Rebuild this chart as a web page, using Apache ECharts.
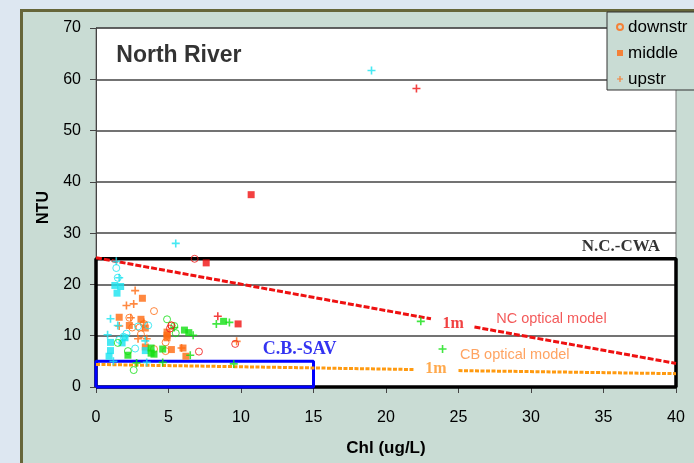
<!DOCTYPE html>
<html>
<head>
<meta charset="utf-8">
<script src="https://cdn.jsdelivr.net/npm/echarts@6/dist/echarts.min.js"></script>
<style>
	html, body { margin: 0; padding: 0; }
	body { width: 694px; height: 463px; overflow: hidden; background: #dde7f1; position: relative; }
	.panel {
		position: absolute; left: 20px; top: 9px; width: 700px; height: 470px;
		background: #c9dcd4; border-left: 3px solid #66663a; border-top: 3px solid #66663a;
	}
	#chart { position: absolute; left: 0; top: 0; width: 694px; height: 463px; }
</style>
</head>
<body>
<div class="panel"></div>
<div id="chart"></div>
<script>
	// Chl (ug/L), NTU pairs, one array per colour and station
	const downOrange = [[4.0, 14.8], [2.3, 13.5], [3.3, 12.3], [2.5, 11.6], [5.2, 12.0], [3.1, 10.3], [4.8, 8.7], [4.8, 7.0], [4.0, 7.4], [3.0, 11.6]];
	const midOrange = [[3.2, 17.3], [1.6, 13.6], [3.1, 13.2], [2.3, 12.0], [3.4, 11.5], [4.9, 10.7], [4.9, 10.1], [4.9, 9.6], [5.2, 7.3], [6.0, 7.6], [6.2, 6.0], [3.4, 7.8]];
	const upOrange = [[2.7, 18.8], [2.6, 16.2], [2.1, 15.9], [2.4, 13.5], [1.6, 11.9], [3.5, 9.4], [2.9, 9.4], [5.9, 7.6], [9.7, 8.9], [3.3, 12.6]];

	const downCyan = [[1.4, 23.2], [1.5, 21.3], [3.6, 12.0], [2.9, 11.8], [2.1, 10.4], [1.6, 9.2], [2.7, 7.5], [1.9, 9.8]];
	const midCyan = [[1.3, 19.8], [1.7, 19.6], [1.45, 18.3], [2.0, 9.6], [1.8, 8.6], [1.0, 8.7], [1.0, 7.1], [0.9, 6.0], [3.4, 7.1]];
	const upCyan = [[19.0, 61.7], [5.5, 28.0], [1.4, 24.5], [1.6, 21.3], [1.0, 13.3], [1.5, 12.0], [0.8, 10.2], [3.4, 9.0], [1.2, 5.0], [3.5, 4.8]];

	const downGreen = [[4.9, 13.2], [5.4, 11.9], [5.5, 10.5], [1.5, 8.6], [2.2, 7.0], [2.6, 3.3]];
	const midGreen = [[8.8, 12.8], [6.1, 11.1], [6.4, 10.6], [3.8, 7.6], [3.8, 6.6], [4.0, 6.4], [4.6, 7.4], [2.2, 6.2]];
	const upGreen = [[8.3, 12.3], [9.2, 12.6], [22.4, 12.8], [23.9, 7.4], [5.4, 11.6], [6.7, 10.1], [6.5, 6.2], [9.5, 4.5], [2.8, 4.7], [4.6, 4.8]];

	const downRed = [[6.8, 25.0], [5.1, 11.4], [9.6, 8.4], [7.1, 6.9], [5.2, 12.0]];
	const midRed = [[10.7, 37.5], [7.6, 24.2], [9.8, 12.3]];
	const upRed = [[22.1, 58.2], [8.4, 13.8]];

	// reference lines and boxes
	const ncModelA = [[0, 25.2], [23.1, 13.3]];
	const ncModelB = [[26.1, 11.7], [40, 4.6]];
	const cbModelA = [[0, 4.4], [22.0, 3.4]];
	const cbModelB = [[25.0, 3.2], [40, 2.6]];
	const cwaBox = [[0, 0], [40, 0], [40, 25], [0, 25], [0, 0]];
	const savBox = [[0, 0], [15, 0], [15, 5], [0, 5], [0, 0]];

	const xTicks = [0, 40, 5];
	const yTicks = [0, 70, 10];

	const SANS = "'Liberation Sans', Arial, sans-serif";
	const SERIF = "'Liberation Serif', 'Times New Roman', serif";
	const PLUS = "path://M4,0H6V4H10V6H6V10H4V6H0V4H4Z";

	const colors = { orange: "#ff6a10", cyan: "#18e4f0", green: "#11e011", red: "#f01010" };

	const pointSeries = (name, data, shape, color) => {
		const s = { name, type: "scatter", data, z: 5, silent: true };
		if (shape === "circle") {
			s.symbol = "circle";
			s.symbolSize = 7;
			s.itemStyle = { color: "rgba(0,0,0,0)", borderColor: color, borderWidth: 1 };
		} else if (shape === "square") {
			s.symbol = "rect";
			s.symbolSize = 7;
			s.itemStyle = { color };
		} else {
			s.symbol = PLUS;
			s.symbolSize = 8;
			s.itemStyle = { color };
		}
		return s;
	};

	const lineSeries = (data, color, width, type) => ({
		type: "line", data, symbol: "none", clip: false, silent: true, z: 3,
		lineStyle: { color, width, type }
	});

	const note = (pos, text, style) => ({
		value: pos,
		label: Object.assign({ show: true, position: "right", distance: 0, formatter: text }, style)
	});

	const notes = [
		note([1.4, 64.7], "North River", { fontFamily: SANS, fontWeight: "bold", fontSize: 23, color: "#000" }),
		note([33.5, 27.3], "N.C.-CWA", { fontFamily: SERIF, fontWeight: "bold", fontSize: 17, color: "#000" }),
		note([11.5, 7.4], "C.B.-SAV", { fontFamily: SERIF, fontWeight: "bold", fontSize: 18, color: "#0000ee" }),
		note([27.6, 13.2], "NC optical model", { fontFamily: SANS, fontSize: 14.5, color: "#f03030" }),
		note([25.1, 6.2], "CB optical model", { fontFamily: SANS, fontSize: 14.5, color: "#ff8c3a" }),
		note([23.9, 12.4], "1m", { fontFamily: SERIF, fontWeight: "bold", fontSize: 16, color: "#ee1111" }),
		note([22.7, 3.5], "1m", { fontFamily: SERIF, fontWeight: "bold", fontSize: 16, color: "#ff9420" })
	];

	const chart = echarts.init(document.getElementById("chart"));

	const option = {
		animation: false,
		backgroundColor: "transparent",
		textStyle: { fontFamily: SANS },
		grid: {
			left: 96, right: 18, top: 28, bottom: 76,
			show: true, backgroundColor: "#fff", borderColor: "#777", borderWidth: 1
		},
		legend: {
			data: ["downstr", "middle", "upstr"],
			orient: "vertical",
			left: 607, top: 12,
			padding: [5, 30, 1, 9],
			itemGap: 6,
			itemWidth: 6, itemHeight: 6,
			backgroundColor: "#c9dcd4",
			borderColor: "#333", borderWidth: 1, borderRadius: 0,
			textStyle: { fontFamily: SANS, fontSize: 17, color: "#000", lineHeight: 20 }
		},
		xAxis: {
			type: "value",
			min: xTicks[0], max: xTicks[1], interval: xTicks[2],
			name: "Chl (ug/L)", nameLocation: "middle", nameGap: 53,
			nameTextStyle: { fontFamily: SANS, fontWeight: "bold", fontSize: 17, color: "#000" },
			axisLine: { show: true, lineStyle: { color: "#444", width: 1 } },
			axisTick: { show: true, length: 6, lineStyle: { color: "#444" } },
			axisLabel: { fontFamily: SANS, fontSize: 16, color: "#000", margin: 23 },
			splitLine: { show: false }
		},
		yAxis: {
			type: "value",
			min: yTicks[0], max: yTicks[1], interval: yTicks[2],
			name: "NTU", nameLocation: "middle", nameGap: 44, nameRotate: 90,
			nameTextStyle: { fontFamily: SANS, fontWeight: "bold", fontSize: 16, color: "#000" },
			axisLine: { show: true, lineStyle: { color: "#444", width: 1 } },
			axisTick: { show: true, length: 6, lineStyle: { color: "#444" } },
			axisLabel: { fontFamily: SANS, fontSize: 16, color: "#000", margin: 15 },
			splitLine: { show: true, lineStyle: { color: "#444", width: 1.5 } }
		},
		series: [
			lineSeries(cwaBox, "#000", 3.5, "solid"),
			lineSeries(savBox, "#0000ff", 3, "solid"),
			lineSeries(ncModelA, "#ee1111", 3, [6, 2]),
			lineSeries(ncModelB, "#ee1111", 3, [6, 2]),
			lineSeries(cbModelA, "#ff9a10", 3, [4, 1.5]),
			lineSeries(cbModelB, "#ff9a10", 3, [4, 1.5]),
			pointSeries("downstr", downOrange, "circle", colors.orange),
			pointSeries("middle", midOrange, "square", colors.orange),
			pointSeries("upstr", upOrange, "plus", colors.orange),
			pointSeries("downstr-c", downCyan, "circle", colors.cyan),
			pointSeries("middle-c", midCyan, "square", colors.cyan),
			pointSeries("upstr-c", upCyan, "plus", colors.cyan),
			pointSeries("downstr-g", downGreen, "circle", colors.green),
			pointSeries("middle-g", midGreen, "square", colors.green),
			pointSeries("upstr-g", upGreen, "plus", colors.green),
			pointSeries("downstr-r", downRed, "circle", colors.red),
			pointSeries("middle-r", midRed, "square", colors.red),
			pointSeries("upstr-r", upRed, "plus", colors.red),
			{
				type: "scatter", data: notes, symbolSize: 0, silent: true, z: 6
			}
		]
	};

	chart.setOption(option);
</script>
</body>
</html>
